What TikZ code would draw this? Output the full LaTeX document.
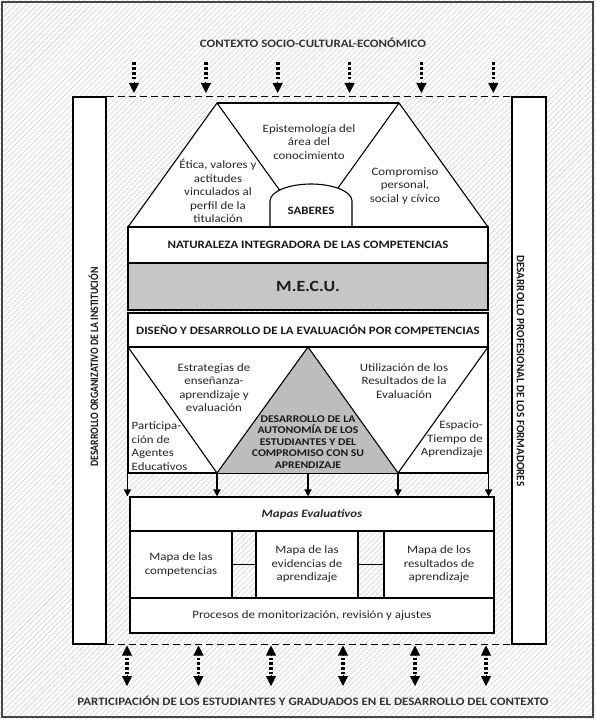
\documentclass[tikz,border=0pt]{standalone}
\usepackage{fontspec}
\setmainfont{Carlito}[FakeStretch=1.14]
\usetikzlibrary{arrows.meta,patterns.meta}

\tikzset{
  txt/.style={font=\fontsize{11.3}{13.5}\selectfont, text=black!85, align=center, inner sep=0pt},
  boldtxt/.style={font=\bfseries\fontsize{11.3}{13.5}\selectfont, text=black!90, align=center, inner sep=0pt},
  boxn/.style={draw=black, line width=1.1pt, fill=white, inner sep=0pt, txt},
  edge/.style={draw=black, line width=1.1pt, line join=miter},
  hatch/.style={pattern={Lines[angle=45,distance=3.8pt,line width=0.55pt]}, pattern color=gray!38},
  dashline/.style={draw=black, line width=1pt, dash pattern=on 7pt off 4pt},
  dotshaft/.style={draw=black, line width=3.6pt, dash pattern=on 2.6pt off 2.2pt},
  dothead/.style={draw=black, line width=1pt, -{Triangle[length=10pt,width=10pt]}},
  feed/.style={draw=black, line width=1.4pt, -{Triangle[length=7pt,width=7pt]}}
}

\begin{document}
\begin{tikzpicture}[x=1pt,y=-1pt]
  \useasboundingbox (0,0) rectangle (595,719);

  % hatched background and frame
  \fill[white] (0,0) rectangle (595,719);
  \fill[hatch] (0,0) rectangle (595,719);
  \draw[gray!55!black, line width=1.6pt] (2,2) rectangle (593,717);

  % titles
  \node[boldtxt, text=black!80] (ctx) at (313,43) {CONTEXTO SOCIO-CULTURAL-ECONÓMICO};
  \node[boldtxt, text=black!80] (part) at (313,701) {PARTICIPACIÓN DE LOS ESTUDIANTES Y GRADUADOS EN EL DESARROLLO DEL CONTEXTO};

  % side columns
  \node[boxn, minimum width=33pt, minimum height=547pt] (colL) at (89.5,370.5) {};
  \node[boxn, minimum width=34pt, minimum height=547pt] (colR) at (529,370.5) {};
  \node[boldtxt] (colLt) at (93.5,367) {\rotatebox{90}{\scalebox{0.76}[1]{DESARROLLO ORGANIZATIVO DE LA INSTITUCIÓN}}};
  \node[boldtxt] (colRt) at (520.5,371) {\rotatebox{-90}{\scalebox{0.86}[1]{DESARROLLO PROFESIONAL DE LOS FORMADORES}}};

  % context boundaries
  \draw[dashline] (colL.north east) -- (colR.north west);
  \draw[dashline] (colL.south east) -- (colR.south west);

  % incoming context arrows
  \foreach \x in {134,205.9,277.7,349.6,421.4,493.3} {
    \draw[dotshaft] (\x,62.5) -- (\x,81);
    \draw[dothead] (\x,82) -- (\x,93);
  }
  % two-way participation arrows
  \foreach \x in {127,198.5,271,343,415,486} {
    \draw[dothead] (\x,656) -- (\x,645.5);
    \draw[dotshaft] (\x,657.5) -- (\x,674);
    \draw[dothead] (\x,675) -- (\x,686);
  }

  % knowledge pyramids
  \coordinate (t1) at (128,227);
  \coordinate (t2) at (217,103);
  \coordinate (t3) at (306,227);
  \coordinate (t4) at (310,227);
  \coordinate (t5) at (399,103);
  \coordinate (t6) at (488,227);
  \fill[white] (t1) -- (t2) -- (t5) -- (t6) -- cycle;
  \draw[edge] (t1) -- (t2) -- (t3);
  \draw[edge] (t4) -- (t5) -- (t6);
  \draw[edge] (t2) -- (t5);
  \draw[edge, fill=white] (270,227) -- (270,201)
     .. controls (270,191) and (290,184) .. (311,184)
     .. controls (332,184) and (352,191) .. (352,201) -- (352,227);
  \node[boldtxt] (sab) at (311,211) {SABERES};
  \node[txt] (epi) at (309,142) {Epistemología del\\área del\\conocimiento};
  \node[txt] (eti) at (218,191) {Ética, valores y\\actitudes\\vinculados al\\perfil de la\\titulación};
  \node[txt] (com) at (405,186) {Compromiso\\personal,\\social y cívico};

  % central bands
  \node[boxn, boldtxt, minimum width=360pt, minimum height=36pt] (nat) at (308,245) {NATURALEZA INTEGRADORA DE LAS COMPETENCIAS};
  \node[boxn, boldtxt, fill=gray!45, minimum width=360pt, minimum height=47pt, font=\bfseries\fontsize{15.6}{18}\selectfont] (mecu) at (308,286.5) {M.E.C.U.};
  \node[boxn, boldtxt, minimum width=360pt, minimum height=34pt] (dis) at (308,330) {DISEÑO Y DESARROLLO DE LA EVALUACIÓN POR COMPETENCIAS};

  % evaluation design band
  \node[boxn, minimum width=360pt, minimum height=126pt] (band) at (308,410) {};
  \coordinate (z1) at (128,347);
  \coordinate (z2) at (217,473);
  \coordinate (z3) at (308,347);
  \coordinate (z4) at (398,473);
  \coordinate (z5) at (488,347);
  \fill[gray!52] (z2) -- (z3) -- (z4) -- cycle;
  \draw[edge] (z1) -- (z2) -- (z3) -- (z4) -- (z5);
  \draw[edge] (band.south west) -- (band.south east);
  \node[txt] (est) at (214,387.5) {Estrategias de\\enseñanza-\\aprendizaje y\\evaluación};
  \node[txt] (uti) at (404,381) {Utilización de los\\Resultados de la\\Evaluación};
  \node[txt, align=left, anchor=west] (agt) at (131.5,446) {Participa-\\ción de\\Agentes\\Educativos};
  \node[txt, align=right, anchor=east] (esp) at (483,439.5) {Espacio-\\Tiempo de\\Aprendizaje};
  \node[boldtxt, font=\bfseries\fontsize{10.3}{11.5}\selectfont] (aut) at (308,442) {DESARROLLO DE LA\\AUTONOMÍA DE LOS\\ESTUDIANTES Y DEL\\COMPROMISO CON SU\\APRENDIZAJE};

  % evaluation maps
  \node[boxn, minimum width=364pt, minimum height=34pt, font=\bfseries\itshape\fontsize{11.3}{13.5}\selectfont] (mapas) at (312,514) {Mapas Evaluativos};
  \node[boxn, minimum width=102pt, minimum height=67pt] (m1) at (181,564.5) {Mapa de las\\competencias};
  \node[boxn, minimum width=102pt, minimum height=67pt] (m2) at (307,564.5) {Mapa de las\\evidencias de\\aprendizaje};
  \node[boxn, minimum width=110pt, minimum height=67pt] (m3) at (439,564.5) {Mapa de los\\resultados de\\aprendizaje};
  \node[boxn, minimum width=364pt, minimum height=35pt] (proc) at (312,615.5) {Procesos de monitorización, revisión y ajustes};
  \draw[edge, line width=1.5pt] (m1.east) -- (m2.west);
  \draw[edge, line width=1.5pt] (m2.east) -- (m3.west);

  % feeds into the maps
  \draw[feed] (band.south west) -- (band.south west |- mapas.north);
  \draw[feed] (z2) -- (z2 |- mapas.north);
  \draw[feed] (band.south) -- (band.south |- mapas.north);
  \draw[feed] (z4) -- (z4 |- mapas.north);
  \draw[feed] (band.south east) -- (band.south east |- mapas.north);
\end{tikzpicture}
\end{document}
